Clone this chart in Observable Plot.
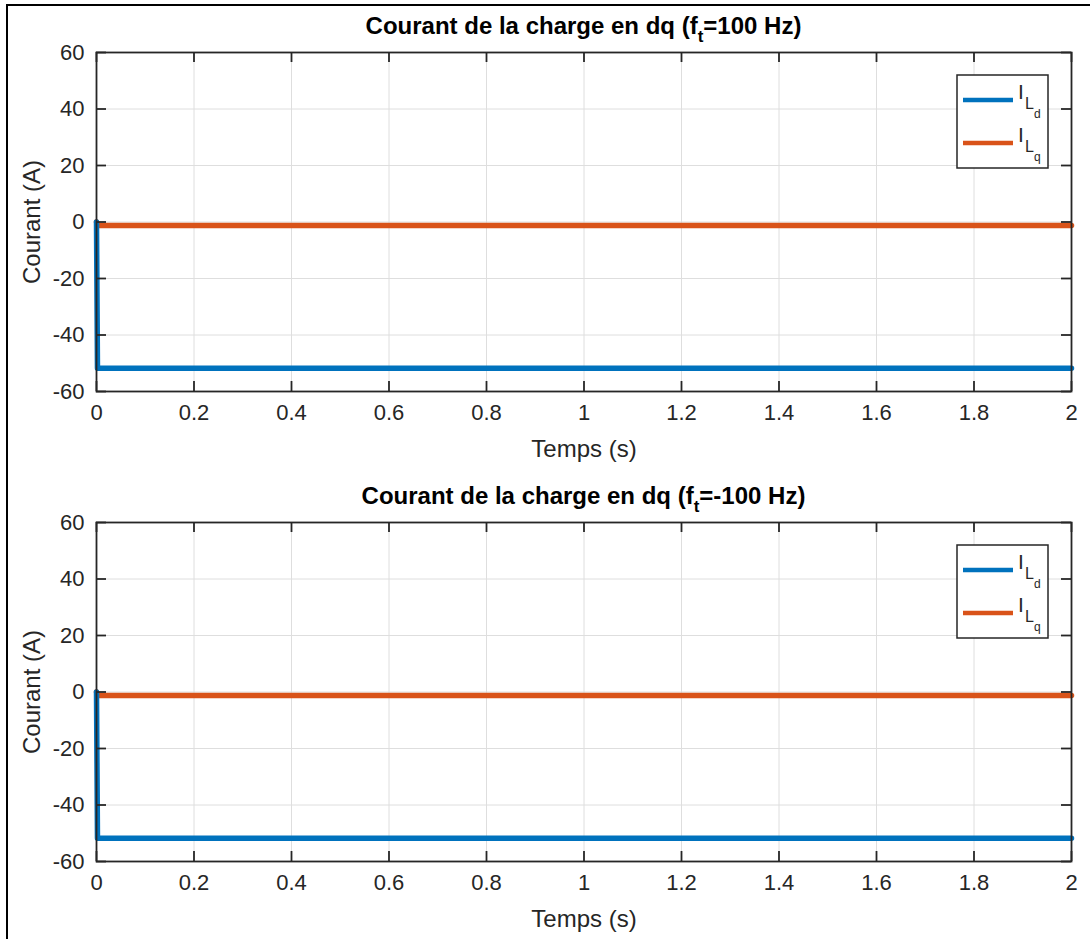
<!DOCTYPE html>
<html><head><meta charset="utf-8">
<script src="https://cdn.jsdelivr.net/npm/d3@7"></script>
<script src="https://cdn.jsdelivr.net/npm/@observablehq/plot@0.6"></script>
<style>
body{margin:0;background:#fff;}
#wrap{position:relative;width:1090px;height:939px;background:#fff;overflow:hidden;font-family:"Liberation Sans",Arial,sans-serif;}
.panel{position:absolute;left:0;width:1090px;height:470px;}
.title{position:absolute;left:96px;width:975px;text-align:center;font-weight:bold;font-size:24px;line-height:24px;color:#000;white-space:nowrap;}
.title sub{font-size:17px;vertical-align:-8px;line-height:0;}
.bline{position:absolute;background:#000;}
</style></head><body><div id="wrap"></div>
<script>
// ---- data ----
const time = [0, 0.002, 2];
const ILd_top = [0, -51.8, -51.8];
const ILq_top = [0, -1.2, -1.2];
const ILd_bottom = [0, -51.8, -51.8];
const ILq_bottom = [0, -1.2, -1.2];
const xTicks = [0, 0.2, 0.4, 0.6, 0.8, 1, 1.2, 1.4, 1.6, 1.8, 2];
const xTickLabels = ["0", "0.2", "0.4", "0.6", "0.8", "1", "1.2", "1.4", "1.6", "1.8", "2"];
const yTicks = [-60, -40, -20, 0, 20, 40, 60];
const yTickLabels = ["-60", "-40", "-20", "0", "20", "40", "60"];
const seriesNames = ["d", "q"];
const seriesColors = ["#0072BD", "#D95319"];
const titles = [
  {pre: "Courant de la charge en dq (f", sub: "t", post: "=100 Hz)"},
  {pre: "Courant de la charge en dq (f", sub: "t", post: "=-100 Hz)"}
];
const xLabel = "Temps (s)";
const yLabel = "Courant (A)";

// ---- layout ----
const W = 1090, H = 470, mT = 52, mB = 79, mL = 96, mR = 19;
const frameW = W - mL - mR, frameH = H - mT - mB;
const ink = "#262626";
const wrap = document.getElementById("wrap");

function addLine(l, t, w, h) {
  const d = document.createElement("div");
  d.className = "bline";
  Object.assign(d.style, {left: l + "px", top: t + "px", width: w + "px", height: h + "px"});
  wrap.appendChild(d);
}
addLine(6, 4, 1084, 2);
addLine(6, 4, 2, 935);

function makePanel(idx, ild, ilq) {
  const top = idx * 470;
  const rowsD = time.map((t, i) => ({t, v: ild[i]}));
  const rowsQ = time.map((t, i) => ({t, v: ilq[i]}));
  const chart = Plot.plot({
    width: W, height: H,
    marginTop: mT, marginBottom: mB, marginLeft: mL, marginRight: mR,
    x: {domain: [0, 2], ticks: xTicks},
    y: {domain: [-60, 60], ticks: yTicks},
    style: {fontFamily: '"Liberation Sans", Arial, sans-serif', fontSize: "22px", color: ink, background: "transparent", overflow: "visible"},
    marks: [
      Plot.gridX(xTicks, {stroke: "#dedede", strokeOpacity: 1, strokeWidth: 1}),
      Plot.gridY(yTicks, {stroke: "#dedede", strokeOpacity: 1, strokeWidth: 1}),
      Plot.line(rowsQ, {x: "t", y: "v", stroke: seriesColors[1], strokeWidth: 5.5}),
      Plot.line(rowsD, {x: "t", y: "v", stroke: seriesColors[0], strokeWidth: 5.5}),
      Plot.tickX(xTicks, {x: d => d, insetTop: frameH - 10, stroke: ink, strokeWidth: 1.8}),
      Plot.tickX(xTicks, {x: d => d, insetBottom: frameH - 10, stroke: ink, strokeWidth: 1.8}),
      Plot.tickY(yTicks, {y: d => d, insetRight: frameW - 10, stroke: ink, strokeWidth: 1.8}),
      Plot.tickY(yTicks, {y: d => d, insetLeft: frameW - 10, stroke: ink, strokeWidth: 1.8}),
      Plot.frame({stroke: ink, strokeWidth: 1.8}),
      Plot.axisX(xTicks, {tickSize: 0, tickPadding: 13, tickFormat: (d, i) => xTickLabels[i], fontSize: 22,
        label: xLabel, labelArrow: "none", labelAnchor: "center", labelOffset: 65}),
      Plot.axisY(yTicks, {tickSize: 0, tickPadding: 12, tickFormat: (d, i) => yTickLabels[i], fontSize: 22,
        label: yLabel, labelArrow: "none", labelAnchor: "center", labelOffset: 74})
    ]
  });
  const div = document.createElement("div");
  div.className = "panel";
  div.style.top = top + "px";
  div.appendChild(chart);
  wrap.appendChild(div);
  d3.select(chart).selectAll("g[aria-label='x-axis label'] text, g[aria-label='y-axis label'] text")
    .style("font-size", "24px")
    .each(function () { this.textContent = this.textContent.replace(/\s*[↑↓→←]\s*/g, ""); });

  // title
  const t = document.createElement("div");
  t.className = "title";
  t.style.top = (top + 14) + "px";
  t.innerHTML = titles[idx].pre + "<sub>" + titles[idx].sub + "</sub>" + titles[idx].post;
  wrap.appendChild(t);

  // legend
  const lg = d3.create("svg").attr("width", 93).attr("height", 95)
    .style("position", "absolute").style("left", "956px").style("top", (top + 74) + "px")
    .style("font-family", '"Liberation Sans", Arial, sans-serif');
  lg.append("rect").attr("x", 1).attr("y", 1).attr("width", 91).attr("height", 93)
    .attr("fill", "#fff").attr("stroke", ink).attr("stroke-width", 1.5);
  seriesNames.forEach((s, i) => {
    const y0 = 26 + i * 43;
    lg.append("line").attr("x1", 7).attr("x2", 57).attr("y1", y0).attr("y2", y0)
      .attr("stroke", seriesColors[i]).attr("stroke-width", 4.5);
    lg.append("text").attr("x", 62).attr("y", y0 - 1).attr("font-size", 21).attr("fill", ink).text("I");
    lg.append("text").attr("x", 69).attr("y", y0 + 9).attr("font-size", 16).attr("fill", ink).text("L");
    lg.append("text").attr("x", 78).attr("y", y0 + 18).attr("font-size", 12).attr("fill", ink).text(s);
  });
  wrap.appendChild(lg.node());
}
makePanel(0, ILd_top, ILq_top);
makePanel(1, ILd_bottom, ILq_bottom);
</script></body></html>
